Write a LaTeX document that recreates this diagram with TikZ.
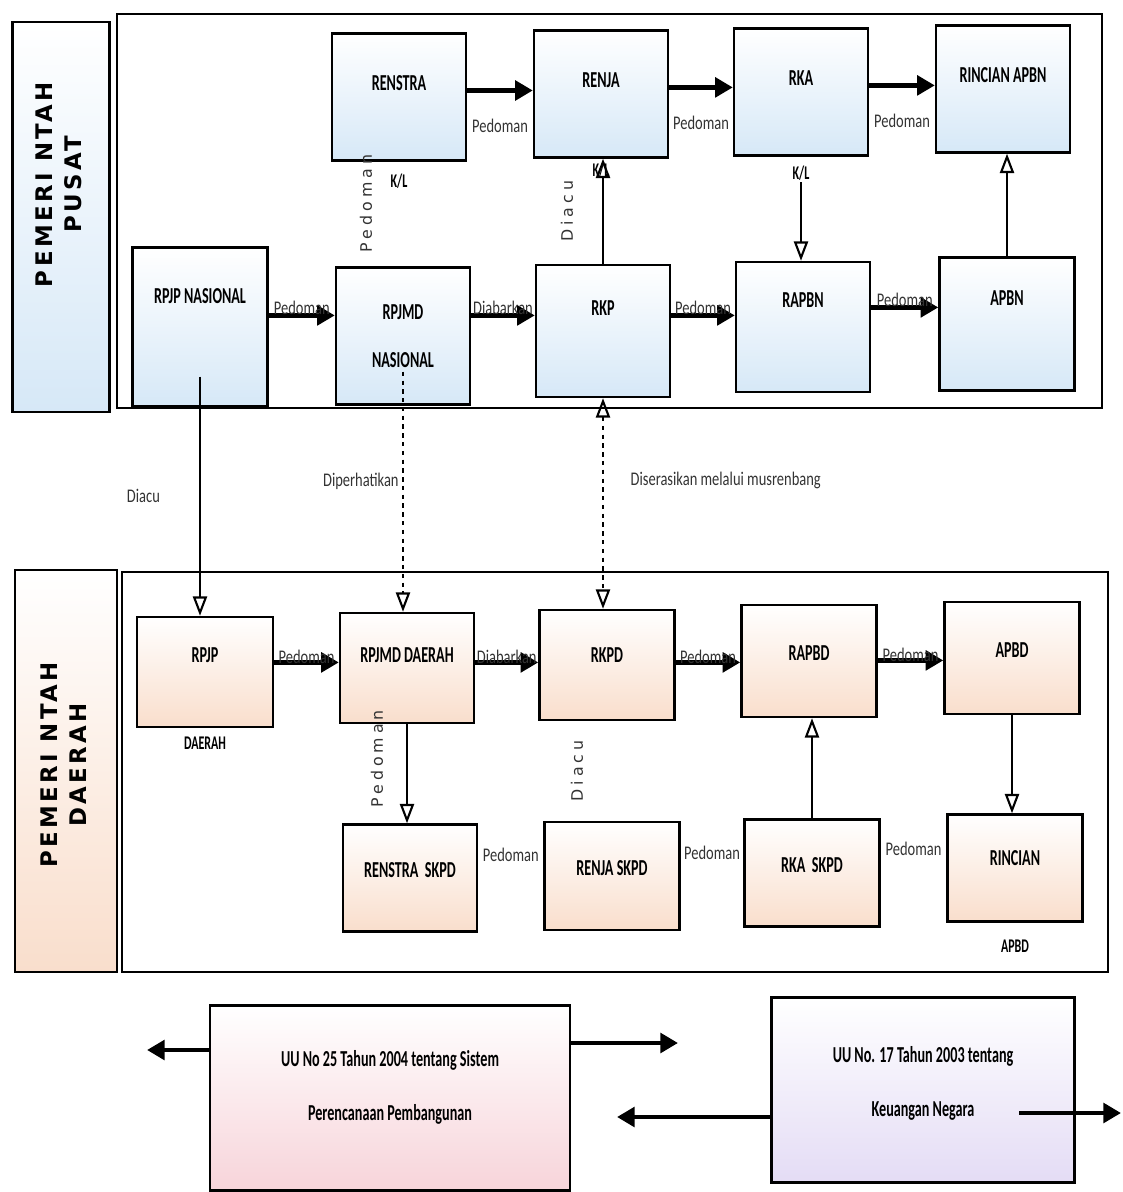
\documentclass[tikz,border=0pt]{standalone}
\usepackage{fontspec}
\setmainfont{Carlito}[FakeStretch=0.75]
\newfontfamily\boxfont{Carlito}[FakeStretch=0.62]
\newfontfamily\capsfont{DejaVu Sans}[LetterSpace=15]
\newfontfamily\spacedfont{DejaVu Sans}[LetterSpace=25]
\usetikzlibrary{arrows.meta,positioning}

\definecolor{pusatblue}{RGB}{214,232,247}
\definecolor{daerahpeach}{RGB}{249,222,204}
\definecolor{uupink}{RGB}{247,212,218}
\definecolor{uulav}{RGB}{228,220,245}

\tikzset{
  frame/.style={draw, line width=1.3pt},
  box/.style={draw, line width=1.4pt, minimum width=2.68cm, inner sep=2pt,
    font=\boxfont\bfseries\fontsize{13}{15}\selectfont},
  pusat/.style={box, minimum height=2.54cm, top color=white, bottom color=pusatblue, text depth=0.56cm},
  daerah/.style={box, minimum height=2.2cm, top color=white, bottom color=daerahpeach, text depth=0.4cm},
  sidebox/.style={draw, line width=1.4pt, inner sep=0pt,
    font=\capsfont\bfseries\fontsize{13}{17}\selectfont},
  uubox/.style={draw, line width=1.4pt, align=center, minimum height=3.7cm,
    font=\boxfont\bfseries\fontsize{13}{15}\selectfont},
  kl/.style={font=\boxfont\bfseries\fontsize{11}{13}\selectfont, inner sep=1pt},
  lbl/.style={font=\fontsize{11}{13}\selectfont, text=black!80, inner sep=1pt},
  vlabel/.style={rotate=90, font=\spacedfont\fontsize{9}{11}\selectfont, text=black!80, inner sep=1pt},
  fat/.style={line width=2.5pt, -{Triangle[length=10pt,width=11pt]}},
  thinarrow/.style={line width=1pt, -{Triangle[open,length=11pt,width=8pt,line width=1.2pt]}},
  dotarrow/.style={thinarrow, dash pattern=on 2.5pt off 2.5pt}
}

\begin{document}
\begin{tikzpicture}[x=0.02cm,y=-0.02cm]
\useasboundingbox (0,0) rectangle (1122,1192);

% pemerintah pusat
\draw[frame] (117,14) rectangle (1102,408);
\node[sidebox, minimum width=1.94cm, minimum height=7.8cm, top color=white, bottom color=pusatblue] (pusat) at (61,217)
  {\rotatebox{90}{\begin{tabular}{@{\hspace{1.3cm}}c@{}}PEMERI NTAH\\PUSAT\end{tabular}}};

\node[pusat] (renstra) at (399,97) {RENSTRA};
\node[pusat] (renja) at (601,94) {RENJA};
\node[pusat] (rka) at (801,92) {RKA};
\node[pusat] (rincianapbn) at (1003,89) {RINCIAN APBN};

\node[pusat, minimum width=2.7cm, minimum height=3.18cm, text depth=1.24cm] (rpjpnas) at (200,327) {RPJP NASIONAL};
\node[pusat, minimum height=2.74cm, text depth=0pt, align=center] (rpjmdnas) at (403,336) {RPJMD\\[0.42cm]NASIONAL};
\node[pusat, minimum height=2.64cm, text depth=0.92cm] (rkp) at (603,331) {RKP};
\node[pusat, minimum height=2.6cm, text depth=1.08cm] (rapbn) at (803,327) {RAPBN};
\node[pusat, minimum width=2.7cm, minimum height=2.66cm, text depth=1.04cm] (apbn) at (1007,324) {APBN};

\node[kl, below=6pt of renstra] (klrenstra) {K/L};
\node[kl, below=1pt of renja] (klrenja) {K/L};
\node[kl, below=4pt of rka] (klrka) {K/L};

\draw[fat] (renstra.east |- renstra.base) -- node[lbl, below=14pt] {Pedoman} (renja.west |- renstra.base);
\draw[fat] (renja.east |- renja.base) -- node[lbl, below=14pt] {Pedoman} (rka.west |- renja.base);
\draw[fat] (rka.east |- rka.base) -- node[lbl, below=14pt] {Pedoman} (rincianapbn.west |- rka.base);

\draw[fat] (rpjpnas.east |- rkp.base) -- node[lbl, above=-2pt] {Pedoman} (rpjmdnas.west |- rkp.base);
\draw[fat] (rpjmdnas.east |- rkp.base) -- node[lbl, above=-2pt] {Diabarkan} (rkp.west |- rkp.base);
\draw[fat] (rkp.east |- rkp.base) -- node[lbl, above=-2pt] {Pedoman} (rapbn.west |- rkp.base);
\draw[fat] (rapbn.east |- rapbn.base) -- node[lbl, above=-2pt] {Pedoman} (apbn.west |- rapbn.base);

\draw[thinarrow] (rkp.north) -- (rkp.north |- renja.south);
\draw[thinarrow] (klrka.south) -- (klrka.south |- rapbn.north);
\draw[thinarrow] (apbn.north) -- (apbn.north |- rincianapbn.south);

\path ([xshift=-0.66cm]renstra.south) -- node[vlabel, pos=0.4] {Pedoman} ([xshift=-0.66cm]renstra.south |- rpjmdnas.north);
\path ([xshift=-0.72cm]rkp.north) -- node[vlabel] {Diacu} ([xshift=-0.72cm]rkp.north |- renja.south);

% pemerintah daerah
\draw[frame] (122,572) rectangle (1108,972);
\node[sidebox, minimum width=2.04cm, minimum height=8.04cm, top color=white, bottom color=daerahpeach] (daerah) at (66,771)
  {\rotatebox{90}{\begin{tabular}{@{\hspace{0.24cm}}c@{}}PEMERI NTAH\\DAERAH\end{tabular}}};

\node[daerah, minimum width=2.72cm, text depth=0.68cm] (rpjpd) at (205,672) {RPJP};
\node[daerah, text depth=0.52cm] (rpjmdd) at (407,668) {RPJMD DAERAH};
\node[daerah, minimum width=2.7cm] (rkpd) at (607,665) {RKPD};
\node[daerah, minimum width=2.7cm, minimum height=2.24cm, text depth=0.32cm] (rapbd) at (809,661) {RAPBD};
\node[daerah, minimum width=2.7cm, minimum height=2.24cm, text depth=0.32cm] (apbd) at (1012,658) {APBD};

\node[daerah, minimum height=2.14cm, text depth=0.32cm] (renstraskpd) at (410,878) {RENSTRA\ \ SKPD};
\node[daerah, minimum width=2.7cm, minimum height=2.16cm, text depth=0.32cm] (renjaskpd) at (612,876) {RENJA SKPD};
\node[daerah, minimum width=2.7cm, minimum height=2.14cm, text depth=0.32cm] (rkaskpd) at (812,873) {RKA\ \ SKPD};
\node[daerah, minimum width=2.7cm, minimum height=2.14cm, text depth=0.4cm] (rincian) at (1015,868) {RINCIAN};

\node[kl, below=4pt of rpjpd] (daerahkl) {DAERAH};
\node[kl, below=0.3cm of rincian] (apbdkl) {APBD};

\draw[fat] (rpjpd.east |- rpjpd.base) -- node[lbl, above=-3pt] {Pedoman} (rpjmdd.west |- rpjpd.base);
\draw[fat] (rpjmdd.east |- rpjmdd.base) -- node[lbl, above=-3pt] {Diabarkan} (rkpd.west |- rpjmdd.base);
\draw[fat] (rkpd.east |- rkpd.base) -- node[lbl, above=-3pt] {Pedoman} (rapbd.west |- rkpd.base);
\draw[fat] (rapbd.east |- rapbd.base) -- node[lbl, above=-3pt] {Pedoman} (apbd.west |- rapbd.base);

\draw[thinarrow] (rpjmdd.south) -- (rpjmdd.south |- renstraskpd.north);
\draw[thinarrow] (rkaskpd.north) -- (rkaskpd.north |- rapbd.south);
\draw[thinarrow] (apbd.south) -- (apbd.south |- rincian.north);

\path ([xshift=-0.6cm]rpjmdd.south) -- node[vlabel, pos=0.35] {Pedoman} ([xshift=-0.6cm]rpjmdd.south |- renstraskpd.north);
\path ([xshift=-0.6cm]rkpd.south) -- node[vlabel] {Diacu} ([xshift=-0.6cm]rkpd.south |- renjaskpd.north);

\path (renstraskpd) -- node[lbl, yshift=0.44cm] {Pedoman} (renjaskpd);
\path (renjaskpd) -- node[lbl, yshift=0.44cm] {Pedoman} (rkaskpd);
\path (rkaskpd) -- node[lbl, yshift=0.44cm] {Pedoman} (rincian);

% pusat ke daerah
\draw[thinarrow] ([yshift=0.62cm]rpjpnas.south) -- node[lbl, left=0.75cm] {Diacu} (rpjpnas.south |- rpjpd.north);
\draw[dotarrow] ([yshift=0.68cm]rpjmdnas.south) -- node[lbl, left=1pt, yshift=0.2cm] {Diperhatikan} (rpjmdnas.south |- rpjmdd.north);
\draw[dotarrow, {Triangle[open,length=11pt,width=8pt,line width=1.2pt]}-{Triangle[open,length=11pt,width=8pt,line width=1.2pt]}] (rkp.south) -- node[lbl, right=0.5cm, yshift=0.46cm] {Diserasikan melalui musrenbang} (rkp.south |- rkpd.north);

% undang-undang
\node[uubox, minimum width=7.2cm, top color=white, bottom color=uupink, text depth=0.5cm] (uu25) at (390,1098) {UU No 25 Tahun 2004 tentang Sistem\\[0.55cm]Perencanaan Pembangunan};
\node[uubox, minimum width=6.06cm, top color=white, bottom color=uulav, text depth=0.35cm] (uu17) at (923,1090) {UU No. 17 Tahun 2003 tentang\\[0.55cm]Keuangan Negara};

\coordinate (kiri25) at (147,1050);
\coordinate (kanan25) at (678,1043);
\coordinate (kiri17) at (617,1117);
\coordinate (mulai17) at (1019,1113);
\coordinate (kanan17) at (1121,1113);
\draw[fat] (uu25.west |- kiri25) -- (kiri25);
\draw[fat] (uu25.east |- kanan25) -- (kanan25);
\draw[fat] (uu17.west |- kiri17) -- (kiri17);
\draw[fat] (mulai17) -- (kanan17);
\end{tikzpicture}
\end{document}
